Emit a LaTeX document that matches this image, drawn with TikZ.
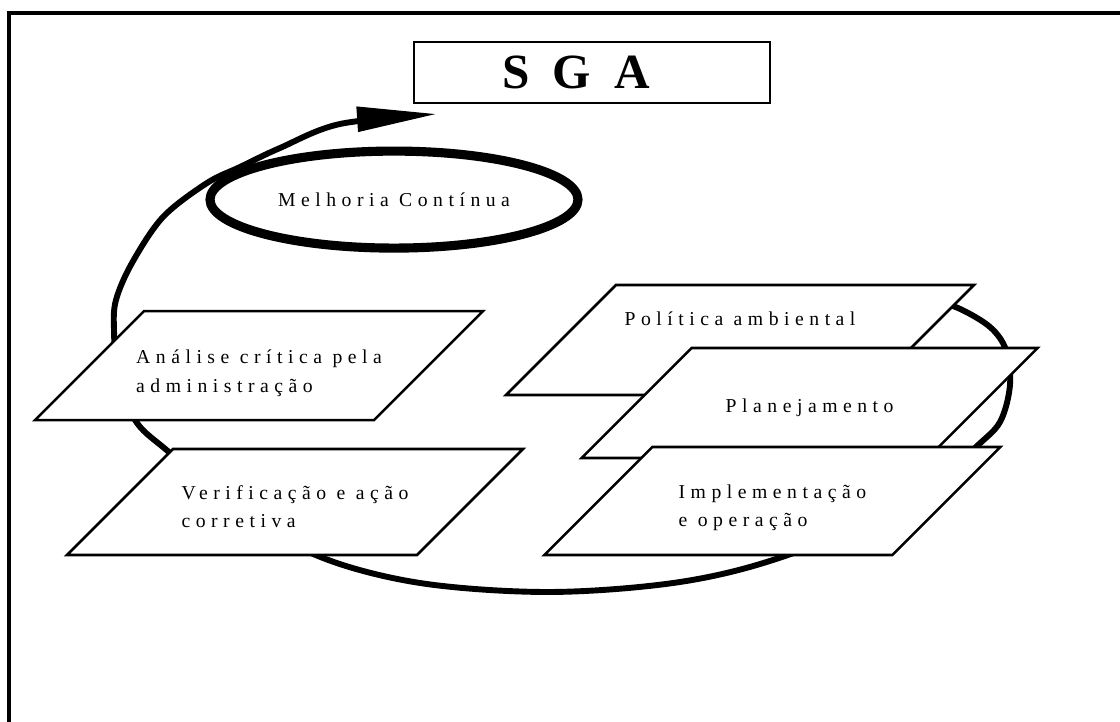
\documentclass[tikz,border=0pt]{standalone}
\usepackage{fontspec}
\setmainfont{Liberation Serif}
\newfontfamily\etapafont[LetterSpace=28]{Liberation Serif}
\newfontfamily\titulofont[LetterSpace=22]{Liberation Serif}
\usetikzlibrary{shapes.geometric,arrows.meta}

\begin{document}
\begin{tikzpicture}[
    etapa/.style={trapezium, trapezium left angle=45, trapezium right angle=135,
        trapezium stretches body=true, draw, line width=1.8pt, fill=white,
        inner ysep=0pt, minimum width=11.4cm, align=left,
        font=\etapafont\fontsize{14}{20.5}\selectfont},
    titulo/.style={rectangle, draw, line width=1pt, minimum width=8.9cm,
        minimum height=1.525cm, font=\titulofont\bfseries\fontsize{35}{40}\selectfont},
    melhoria/.style={ellipse, draw, line width=6.5pt, minimum width=9.2cm,
        minimum height=2.425cm, font=\etapafont\fontsize{14}{20.5}\selectfont},
    ciclo/.style={line width=4.2pt, -{Triangle[length=2cm, width=0.6cm]}}
]
\useasboundingbox (0,0) rectangle (28,18.05);

% moldura
\draw[line width=2.8pt] (0.225,0) -- (0.225,17.725) -- (28,17.725);

% titulo
\node[titulo] (sga) at (14.8,16.24) {S G A\hspace*{0.8cm}};

% ciclo
\coordinate (inicio) at (23.125,10.6);
\coordinate (ponta) at (10.925,15.2);
\draw[ciclo] plot[smooth, tension=0.55] coordinates {
    (inicio) (23.95,10.35) (24.75,9.875) (25.15,9.3) (25.25,8.425)
    (25.0,7.5) (24.375,6.85) (23.0,5.55) (19.625,4.15) (17.0,3.5)
    (13.75,3.25) (10.5,3.475) (7.95,4.15) (5.75,5.425) (4.25,6.725)
    (3.425,7.475) (2.95,8.55) (2.85,9.8) (2.9,10.55) (3.3,11.475)
    (4.075,12.625) (5.175,13.475) (6.0,13.875) (7.0,14.35) (8.5,14.95)
    (ponta)};

\node[melhoria] (melhoria) at (9.85,13.06) {Melhoria Contínua};

% etapas
\node[etapa, minimum width=11.2cm, inner xsep=-0.4cm, text height=2.025cm, text depth=0.7cm]
    (analise) at (6.475,8.91) {Análise crítica pela\\administração};
\node[etapa, text height=1.975cm, text depth=0.675cm]
    (verificacao) at (7.375,5.5) {Verificação e ação\\corretiva};
\node[etapa, minimum width=11.7cm, text height=1.025cm, text depth=1.725cm]
    (politica) at (18.5,9.55) {Política ambiental};
\node[etapa, text height=1.625cm, text depth=1.125cm]
    (planejamento) at (20.24,7.975) {Planejamento};
\node[etapa, text height=2.0cm, text depth=0.7cm]
    (implementacao) at (19.31,5.525) {Implementação\\e operação};
\end{tikzpicture}
\end{document}
